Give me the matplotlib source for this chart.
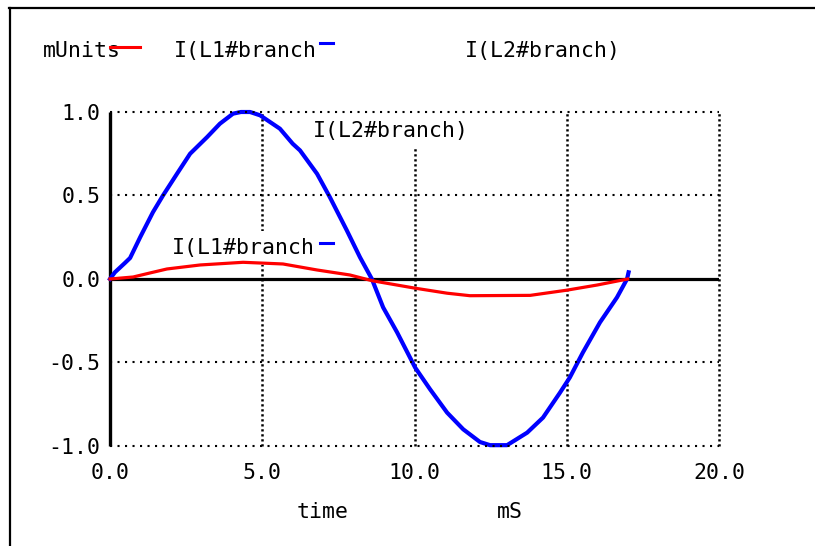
import matplotlib
matplotlib.use("Agg")
import matplotlib.pyplot as plt
from matplotlib.lines import Line2D

# ---- data ----
t_l2 = [0, 0.16, 0.49, 0.66, 0.99, 1.41, 1.74, 2.2, 2.63, 3.19, 3.61, 4.04, 4.3, 4.6,
        4.93, 5.58, 6.0, 6.24, 6.8, 7.22, 7.78, 8.21, 8.6, 8.97, 9.43, 10.02, 10.51,
        11.07, 11.6, 12.15, 12.48, 13.04, 13.7, 14.22, 14.78, 15.1, 15.53, 16.09,
        16.65, 16.98, 17.03]
i_l2 = [0, 0.04, 0.096, 0.126, 0.25, 0.40, 0.50, 0.63, 0.75, 0.85, 0.93, 0.99, 1.0, 1.0,
        0.98, 0.90, 0.81, 0.77, 0.63, 0.49, 0.29, 0.13, 0.0, -0.17, -0.32, -0.53, -0.66,
        -0.80, -0.90, -0.976, -0.995, -0.995, -0.92, -0.83, -0.68, -0.59, -0.44, -0.26,
        -0.11, 0.0, 0.04]
t_l1 = [0, 0.76, 1.31, 1.87, 2.96, 4.37, 5.68, 6.8, 7.88, 8.6, 10.02, 11.07, 11.82,
        13.8, 15.0, 16.0, 17.0]
i_l1 = [0, 0.012, 0.036, 0.06, 0.084, 0.10, 0.09, 0.054, 0.024, -0.01, -0.055, -0.085,
        -0.10, -0.098, -0.067, -0.036, 0]
x_ticks = [0, 5, 10, 15, 20]
x_tick_labels = ["0.0", "5.0", "10.0", "15.0", "20.0"]
y_ticks = [-1.0, -0.5, 0.0, 0.5, 1.0]
y_tick_labels = ["-1.0", "-0.5", "0.0", "0.5", "1.0"]
series_l1 = "I(L1#branch"
series_l2 = "I(L2#branch)"
units = "mUnits"
xlabel_a, xlabel_b = "time", "mS"

plt.rcParams['font.family'] = ['DejaVu Sans Mono']
FS = 15.5

W, H = 815, 546
def fx(x): return x / W
def fy(y): return 1 - y / H

fig = plt.figure(figsize=(W / 100, H / 100), dpi=100)
fig.patch.set_facecolor("white")

# outer frame (top and left)
fig.add_artist(Line2D([fx(9), fx(814)], [fy(8), fy(8)], color="black", lw=1.6))
fig.add_artist(Line2D([fx(10), fx(10)], [fy(8), fy(546)], color="black", lw=1.6))

ax = fig.add_axes([fx(110), fy(446), (719 - 110) / W, (446 - 112) / H])
ax.set_xlim(0, 20)
ax.set_ylim(-1, 1)
for s in ax.spines.values():
    s.set_visible(False)

# grid
for yv in [1.0, 0.5, -0.5, -1.0]:
    ax.plot([0, 20], [yv, yv], color="black", lw=1.5, ls=(0, (1, 2.6)), clip_on=False, zorder=2.6)
for xv in [5, 10, 15, 20]:
    ax.plot([xv, xv], [-1, 1], color="black", lw=1.8, ls=(0, (0.9, 1.1)), clip_on=False, zorder=1)
ax.plot([0, 20], [0, 0], color="black", lw=2.3, solid_capstyle="butt", zorder=1.5)
ax.plot([0, 0], [-1, 1], color="black", lw=2.4, solid_capstyle="butt", clip_on=False, zorder=1.5)

# curves
ax.plot(t_l2, i_l2, color="#0000ff", lw=3.0, zorder=2, clip_on=False)
ax.plot(t_l1, i_l1, color="#ff0000", lw=2.3, zorder=3, clip_on=False)

# ticks
ax.set_xticks(x_ticks)
ax.set_xticklabels(x_tick_labels, fontsize=FS)
ax.set_yticks(y_ticks)
ax.set_yticklabels(y_tick_labels, fontsize=FS)
ax.tick_params(axis="both", length=0)
ax.tick_params(axis="x", pad=12)
ax.tick_params(axis="y", pad=7)

# in-plot labels
ax.text(fx(391), fy(137), series_l2, transform=fig.transFigure, fontsize=FS, ha="center",
        va="baseline", bbox=dict(facecolor="white", edgecolor="none", pad=6), zorder=2.5)
ax.text(fx(243), fy(254), series_l1, transform=fig.transFigure, fontsize=FS, ha="center",
        va="baseline", bbox=dict(facecolor="white", edgecolor="none", pad=5), zorder=2.5)
ax.add_artist(Line2D([fx(320), fx(333)], [fy(243), fy(243)], transform=fig.transFigure,
                     color="#0000ff", lw=2.2, zorder=4))

# legend header
fig.text(fx(82), fy(57), units, fontsize=FS, ha="center", va="baseline")
fig.add_artist(Line2D([fx(110), fx(140)], [fy(47), fy(47)], color="#ff0000", lw=2.2, zorder=4))
fig.text(fx(245), fy(57), series_l1, fontsize=FS, ha="center", va="baseline")
fig.add_artist(Line2D([fx(320), fx(333)], [fy(43), fy(43)], color="#0000ff", lw=2.2, zorder=4))
fig.text(fx(543), fy(57), series_l2, fontsize=FS, ha="center", va="baseline")

# axis labels
fig.text(fx(323), fy(518), xlabel_a, fontsize=FS, ha="center", va="baseline")
fig.text(fx(510), fy(518), xlabel_b, fontsize=FS, ha="center", va="baseline")

fig.savefig("out.png", dpi=100, facecolor="white")
